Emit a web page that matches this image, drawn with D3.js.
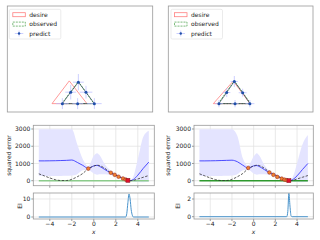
<!DOCTYPE html>
<html><head><meta charset="utf-8">
<script src="https://cdn.jsdelivr.net/npm/d3@7"></script>
<style>body{margin:0;background:#fff}svg{display:block;font-family:"DejaVu Sans",sans-serif}</style>
</head><body>
<script>
// top panels: triangles (x,y)
var desireL=[[-1.54,0],[-0.59,1.25],[0.38,0]];
var observedL=[[-1.0,0],[-0.09,1.21],[0.77,0]];
var predictL=[[-0.97,0],[-0.13,0],[0.79,0],[-0.51,0.63],[0.33,0.63],[-0.09,1.18]];
var xerrL=[0.35,0.3,0.4,0.3,0.35,0.3];
var yerrL=[0.3,0.3,0.3,0.4,0.35,0.45];
var desireR=[[-1.51,0],[-0.41,1.24],[0.52,0]];
var observedR=[[-1.24,0],[-0.35,1.25],[0.55,0]];
var predictR=[[-1.2,0],[-0.31,0],[0.51,0],[-0.77,0.61],[0.11,0.6],[-0.35,1.22]];
var xerrR=[0.22,0.2,0.25,0.2,0.22,0.2];
var yerrR=[0.2,0.2,0.2,0.25,0.22,0.3];

// bottom panels
var xGrid=[-5,-4.5,-4,-3.5,-3,-2.5,-2,-1.5,-1,-0.5,0,0.3,0.5,1,1.5,2,2.5,3,3.3,3.6,4,4.5,5];
var trueErr=[400,280,160,60,10,10,80,230,420,700,850,900,880,720,470,320,170,50,0,20,100,200,300];
var meanL=[1150,1150,1155,1160,1170,1180,1200,1060,890,710,860,890,840,650,460,320,180,55,5,70,320,720,1080];
var upperL=[2990,2990,2990,2990,2990,2990,2980,2100,1250,850,1450,1600,1500,950,600,420,250,100,15,250,1250,2550,2900];
var lowerL=[270,270,270,275,280,285,300,380,600,620,420,350,380,380,340,250,120,20,0,-40,-80,-90,-80];
var meanR=[1150,1150,1155,1160,1170,1180,1190,1100,900,730,860,880,830,640,450,320,180,55,5,60,280,650,1000];
var upperR=[2990,2990,2990,2990,2990,2990,2990,2600,1300,870,1400,1600,1480,900,560,400,230,90,10,200,1000,2100,2650];
var lowerR=[270,270,270,275,280,285,300,380,600,640,420,350,380,380,330,240,110,20,0,-40,-80,-90,-80];
var obsXL=[-0.5,1.55,1.9,2.25,2.65,2.9], obsYL=[700,460,340,230,130,70];
var bestL=[3.1,20];
var obsXR=[-0.5,1.45,1.82,2.18,2.59,2.85,3.05], obsYR=[740,480,340,220,120,60,30];
var bestR=[3.25,5];
var eiXL=[-5,2.9,3.0,3.1,3.2,3.3,3.4,3.5,3.6,5], eiYL=[0,0,2,8,12.8,10,4,1,0,0];
var eiXR=[-5,3.05,3.15,3.25,3.35,3.45,3.55,5], eiYR=[0,0,0.6,2.65,1.2,0.1,0,0];
var errTicks=[0,1000,2000,3000], xTicks=[-4,-2,0,2,4];

var svg=d3.select('body').append('svg').attr('width',320).attr('height',240);
var FS=6;

function topPanel(x0,x1,desire,observed,predict,xerr,yerr,legendX){
	var x=d3.scaleLinear().domain([-4,4]).range([x0,x1]);
	var y=d3.scaleLinear().domain([-0.46,5.37]).range([112,6]);
	var g=svg.append('g');
	g.append('rect').attr('x',x0).attr('y',6).attr('width',x1-x0).attr('height',106)
		.attr('fill','none').attr('stroke','#999').attr('stroke-width',0.8);
	var line=d3.line().x(function(d){return x(d[0]);}).y(function(d){return y(d[1]);}).curve(d3.curveLinearClosed);
	g.append('path').attr('d',line(desire)).attr('fill','none').attr('stroke','#ff8080').attr('stroke-width',0.8);
	g.append('path').attr('d',line(observed)).attr('fill','none').attr('stroke','#3f9a3f').attr('stroke-width',0.9).attr('stroke-dasharray','2,1');
	var order=[0,3,5,4,2,1];
	g.append('path').attr('d',line(order.map(function(i){return predict[i];})))
		.attr('fill','none').attr('stroke','#2a3a5a').attr('stroke-width',0.6);
	var eb=g.selectAll('g.eb').data(predict).enter().append('g');
	eb.append('line').attr('x1',function(d,i){return x(d[0]-xerr[i]);}).attr('x2',function(d,i){return x(d[0]+xerr[i]);})
		.attr('y1',function(d){return y(d[1]);}).attr('y2',function(d){return y(d[1]);})
		.attr('stroke','#b8bcff').attr('stroke-width',0.7);
	eb.append('line').attr('y1',function(d,i){return y(d[1]-yerr[i]);}).attr('y2',function(d,i){return y(d[1]+yerr[i]);})
		.attr('x1',function(d){return x(d[0]);}).attr('x2',function(d){return x(d[0]);})
		.attr('stroke','#b8bcff').attr('stroke-width',0.7);
	eb.append('circle').attr('cx',function(d){return x(d[0]);}).attr('cy',function(d){return y(d[1]);})
		.attr('r',1.5).attr('fill','#1f4fa8');
	// legend
	var lg=g.append('g').attr('transform','translate('+legendX+',9.3)');
	lg.append('rect').attr('width',51.5).attr('height',29.7).attr('rx',1.5)
		.attr('fill','#fff').attr('stroke','#ddd').attr('stroke-width',0.6);
	var names=['desire','observed','predict'];
	names.forEach(function(n,i){
		var cy=5.4+i*9.4;
		if(i==0) lg.append('rect').attr('x',3.5).attr('y',cy-2).attr('width',12.5).attr('height',4)
			.attr('fill','none').attr('stroke','#ff8080').attr('stroke-width',0.8);
		if(i==1) lg.append('rect').attr('x',3.5).attr('y',cy-2).attr('width',12.5).attr('height',4)
			.attr('fill','none').attr('stroke','#5aaa5a').attr('stroke-width',0.8).attr('stroke-dasharray','2,1');
		if(i==2){
			lg.append('line').attr('x1',5.5).attr('x2',14).attr('y1',cy).attr('y2',cy).attr('stroke','#b8bcff').attr('stroke-width',0.7);
			lg.append('line').attr('x1',9.75).attr('x2',9.75).attr('y1',cy-3).attr('y2',cy+3).attr('stroke','#b8bcff').attr('stroke-width',0.7);
			lg.append('circle').attr('cx',9.75).attr('cy',cy).attr('r',1.2).attr('fill','#1f4fa8');
		}
		lg.append('text').attr('x',20).attr('y',cy+2.1).attr('font-size',FS).attr('fill','#222').text(n);
	});
}

function bottomPanel(x0,x1,mean,upper,lower,obsX,obsY,best,eiX,eiY,eiDom,eiTicks,zeroColor,ylabX,eilabX){
	var x=d3.scaleLinear().domain([-5.5,5.5]).range([x0,x1]);
	var y=d3.scaleLinear().domain([-290,3215]).range([185.7,125.3]);
	var ye=d3.scaleLinear().domain(eiDom).range([219,193]);
	var g=svg.append('g');
	function frame(sy,ticks){
		var r=sy.range();
		xTicks.forEach(function(t){
			g.append('line').attr('x1',x(t)).attr('x2',x(t)).attr('y1',r[0]).attr('y2',r[1]).attr('stroke','#e0e0e0').attr('stroke-width',0.7);
			g.append('line').attr('x1',x(t)).attr('x2',x(t)).attr('y1',r[0]).attr('y2',r[0]+2).attr('stroke','#555').attr('stroke-width',0.6);
		});
		ticks.forEach(function(t){
			g.append('line').attr('x1',x0).attr('x2',x1).attr('y1',sy(t)).attr('y2',sy(t)).attr('stroke','#e0e0e0').attr('stroke-width',0.7);
			g.append('line').attr('x1',x0-2).attr('x2',x0).attr('y1',sy(t)).attr('y2',sy(t)).attr('stroke','#555').attr('stroke-width',0.6);
			g.append('text').attr('x',x0-3).attr('y',sy(t)+2.1).attr('text-anchor','end').attr('font-size',FS).attr('fill','#222').text(t);
		});
	}
	frame(y,errTicks);
	frame(ye,eiTicks);
	var pts=xGrid.map(function(v,i){return {x:v,m:mean[i],u:upper[i],l:lower[i],t:trueErr[i]};});
	var area=d3.area().x(function(d){return x(d.x);}).y0(function(d){return y(d.l);}).y1(function(d){return y(d.u);}).curve(d3.curveMonotoneX);
	g.append('path').attr('d',area(pts)).attr('fill','#e4e4ff');
	g.append('line').attr('x1',x(-5)).attr('x2',x(5)).attr('y1',y(0)).attr('y2',y(0)).attr('stroke',zeroColor).attr('stroke-width',1.5);
	var lm=d3.line().x(function(d){return x(d.x);}).y(function(d){return y(d.m);}).curve(d3.curveMonotoneX);
	g.append('path').attr('d',lm(pts)).attr('fill','none').attr('stroke','#3a3aff').attr('stroke-width',0.9);
	var lt=d3.line().x(function(d){return x(d.x);}).y(function(d){return y(d.t);}).curve(d3.curveMonotoneX);
	g.append('path').attr('d',lt(pts)).attr('fill','none').attr('stroke','#333').attr('stroke-width',0.8).attr('stroke-dasharray','2.5,1.5');
	obsX.forEach(function(v,i){
		g.append('circle').attr('cx',x(v)).attr('cy',y(obsY[i])).attr('r',1.8).attr('fill','#f08030').attr('stroke','#a03020').attr('stroke-width',0.6);
	});
	g.append('rect').attr('x',x(best[0])-2).attr('y',y(best[1])-2).attr('width',4).attr('height',4)
		.attr('fill','#e0102a').attr('stroke','#801020').attr('stroke-width',0.5);
	var le=d3.line().x(function(d,i){return x(eiX[i]);}).y(function(d){return ye(d);}).curve(d3.curveMonotoneX);
	g.append('path').attr('d',le(eiY)).attr('fill','none').attr('stroke','#4a94cc').attr('stroke-width',1);
	[y,ye].forEach(function(sy){
		var r=sy.range();
		g.append('rect').attr('x',x0).attr('y',r[1]).attr('width',x1-x0).attr('height',r[0]-r[1])
			.attr('fill','none').attr('stroke','#999').attr('stroke-width',0.8);
	});
	xTicks.forEach(function(t){
		g.append('text').attr('x',x(t)).attr('y',225.5).attr('text-anchor','middle').attr('font-size',FS).attr('fill','#222').text(t<0?'\u2212'+(-t):t);
	});
	g.append('text').attr('x',(x0+x1)/2).attr('y',233.5).attr('text-anchor','middle').attr('font-size',FS).attr('font-style','italic').attr('fill','#222').text('x');
	g.append('text').attr('transform','translate('+ylabX+',155.5) rotate(-90)').attr('text-anchor','middle').attr('font-size',FS).attr('fill','#222').text('squared error');
	g.append('text').attr('transform','translate('+eilabX+',206) rotate(-90)').attr('text-anchor','middle').attr('font-size',FS).attr('fill','#222').text('EI');
}

topPanel(7.3,152.7,desireL,observedL,predictL,xerrL,yerrL,9.3);
topPanel(168.3,313,desireR,observedR,predictR,xerrR,yerrR,171);
bottomPanel(33.3,154.3,meanL,upperL,lowerL,obsXL,obsYL,bestL,eiXL,eiYL,[-1.11,13.33],[0,10],'#8ccc8c',11,21.5);
bottomPanel(194,313.3,meanR,upperR,lowerR,obsXR,obsYR,bestR,eiXR,eiYR,[-0.26,2.68],[0,2],'#2e9a2e',170,180);
</script></body></html>
